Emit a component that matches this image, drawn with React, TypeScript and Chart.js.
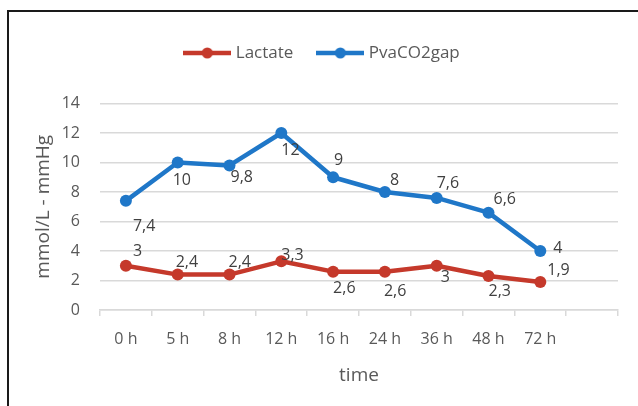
import React, { useEffect, useRef } from 'react';
import { Chart, registerables } from 'chart.js';

Chart.register(...registerables);

// Sampling times (the last slot is left empty on the axis)
const timeLabels = ['0 h', '5 h', '8 h', '12 h', '16 h', '24 h', '36 h', '48 h', '72 h', ''];
const lactate = [3, 2.4, 2.4, 3.3, 2.6, 2.6, 3, 2.3, 1.9];
const pvaco2gap = [7.4, 10, 9.8, 12, 9, 8, 7.6, 6.6, 4];
const yMin = 0;
const yMax = 14;
const yStep = 2;

const RED = '#c5392b';
const BLUE = '#1f77c8';
const GRID = '#d9d9d9';
const TEXT = '#595959';
const LABEL = '#404040';
const FONT = 'Open Sans';

// Where each value label sits relative to its point: [dx, dy] in px
const lactateLabelPlacement = [[7, -14], [-2, -12], [-1, -12], [0, -6], [0, 17], [-1, 20], [4, 12], [0, 15], [7, -12]];
const pvaLabelPlacement = [[7, 26], [-5, 18], [1, 12], [0, 17], [1, -17], [5, -12], [0, -14], [5, -13], [13, -3]];
const placements = [lactateLabelPlacement, pvaLabelPlacement];

const valueLabels = {
  id: 'valueLabels',
  afterDatasetsDraw(chart: any) {
    const ctx = chart.ctx;
    ctx.save();
    ctx.font = `16px "${FONT}"`;
    ctx.fillStyle = LABEL;
    ctx.textAlign = 'left';
    ctx.textBaseline = 'middle';
    chart.data.datasets.forEach((ds: any, i: number) => {
      const meta = chart.getDatasetMeta(i);
      meta.data.forEach((pt: any, j: number) => {
        const [dx, dy] = placements[i][j];
        ctx.fillText(String(ds.data[j]).replace('.', ','), pt.x + dx, pt.y + dy);
      });
    });
    ctx.restore();
  },
};

// Legend symbol: a short line with a dot in the middle
function legendMarker(color: string) {
  const c = document.createElement('canvas');
  c.width = 48;
  c.height = 14;
  const g = c.getContext('2d')!;
  g.strokeStyle = color;
  g.lineWidth = 4.5;
  g.beginPath();
  g.moveTo(0, 7);
  g.lineTo(48, 7);
  g.stroke();
  g.fillStyle = color;
  g.beginPath();
  g.arc(24, 7, 5.5, 0, Math.PI * 2);
  g.fill();
  return c;
}

export default function App() {
  const ref = useRef<HTMLCanvasElement>(null);

  useEffect(() => {
    if (!ref.current) return;
    const markers = [legendMarker(RED), legendMarker(BLUE)];
    const lineStyle = (color: string) => ({
      borderColor: color,
      backgroundColor: color,
      borderWidth: 4.5,
      pointRadius: 6,
      pointBackgroundColor: color,
      pointBorderColor: color,
      pointBorderWidth: 0,
      borderJoinStyle: 'round' as const,
      borderCapStyle: 'round' as const,
      tension: 0,
    });

    const chart = new Chart(ref.current, {
      type: 'line',
      data: {
        labels: timeLabels,
        datasets: [
          { label: 'Lactate', data: lactate, ...lineStyle(RED) },
          { label: 'PvaCO2gap', data: pvaco2gap, ...lineStyle(BLUE) },
        ],
      },
      options: {
        responsive: false,
        animation: false,
        layout: { padding: { top: 17.5, left: 29, right: 20, bottom: 0 } },
        plugins: {
          legend: {
            position: 'top',
            labels: {
              usePointStyle: true,
              pointStyleWidth: 40,
              padding: 27,
              color: TEXT,
              font: { family: FONT, size: 17 },
              generateLabels: (c: any) =>
                Chart.defaults.plugins.legend.labels
                  .generateLabels(c)
                  .map((item: any, i: number) => ({ ...item, pointStyle: markers[i] })),
            },
          },
          subtitle: {
            display: true,
            text: '',
            weight: 0,
            padding: 0,
            font: { size: 32, lineHeight: 1 },
          },
          tooltip: { enabled: false },
        },
        scales: {
          x: {
            offset: true,
            grid: {
              offset: true,
              drawOnChartArea: false,
              drawTicks: true,
              tickLength: 6,
              color: GRID,
              lineWidth: 1.5,
            },
            border: { color: GRID, width: 1.5 },
            ticks: { color: TEXT, padding: 14, font: { family: FONT, size: 16 }, maxRotation: 0, autoSkip: false },
            title: {
              display: true,
              text: 'time',
              color: TEXT,
              font: { family: FONT, size: 19 },
              padding: { top: 0, bottom: 19 },
            },
            afterFit: (s: any) => {
              s.height = 96;
            },
          },
          y: {
            min: yMin,
            max: yMax,
            ticks: { stepSize: yStep, padding: 20, color: TEXT, font: { family: FONT, size: 16 } },
            grid: { color: GRID, lineWidth: 1.5, drawTicks: false },
            border: { display: false },
            title: {
              display: true,
              text: 'mmol/L - mmHg',
              color: TEXT,
              font: { family: FONT, size: 19 },
              padding: { top: 3.6, bottom: 0 },
            },
            afterFit: (s: any) => {
              s.width = 71;
            },
          },
        },
      },
      plugins: [valueLabels],
    });

    return () => chart.destroy();
  }, []);

  return (
    <>
      <div
        style={{
          position: 'absolute',
          left: 7,
          top: 10,
          width: 631,
          height: 396,
          boxSizing: 'border-box',
          borderLeft: '2px solid #1a1a1a',
          borderTop: '2px solid #1a1a1a',
        }}
      />
      <canvas
        ref={ref}
        width={638}
        height={406}
        style={{ position: 'absolute', left: 0, top: 0, width: 638, height: 406 }}
      />
    </>
  );
}
